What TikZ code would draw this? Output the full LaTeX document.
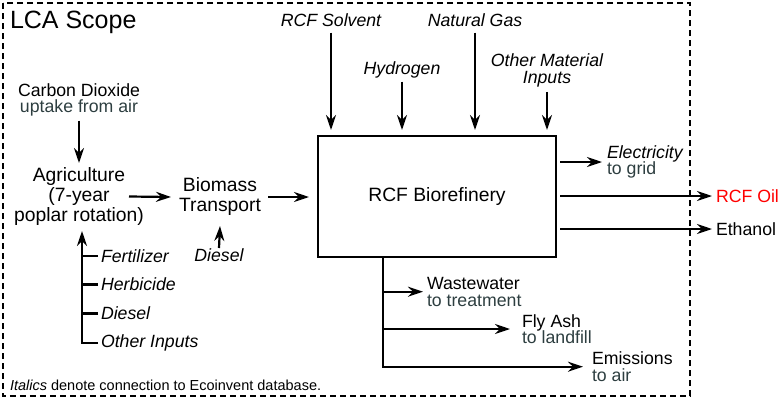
\documentclass[tikz,border=0pt]{standalone}
\usepackage{fontspec}
\setmainfont{Liberation Sans}
\usetikzlibrary{arrows.meta}
\definecolor{subc}{RGB}{45,62,64}
\begin{document}
\begin{tikzpicture}[x=1pt,y=-1pt,
  every node/.style={inner sep=0pt, outer sep=0pt, font=\fontsize{17.7}{16.6}\selectfont, align=center},
  big/.style={font=\fontsize{19.3}{20}\selectfont},
  it/.style={font=\fontsize{17.7}{16.6}\selectfont\itshape},
  arr/.style={line width=2.2pt, -{Stealth[length=15pt,width=10pt,inset=5pt]}},
  ln/.style={line width=2.2pt},
]
\useasboundingbox (0,0) rectangle (780,400);
\draw[line width=2pt, dash pattern=on 6pt off 4pt] (3,3) rectangle (690,396);

\node[anchor=base west, font=\fontsize{25}{28}\selectfont] (title) at (10,28) {LCA Scope};

\node (co2) at (79,100) {Carbon Dioxide\\\textcolor{subc}{uptake from air}};
\node[big] (agri) at (79,196.5) {Agriculture\\(7-year\\poplar rotation)};
\node[big] (bio) at (220,197) {Biomass\\Transport};
\node[big, draw, line width=2.2pt, minimum width=238pt, minimum height=121pt] (box) at (437,196.5) {RCF Biorefinery};

\node[it] (dsl) at (219,255.5) {Diesel};
\node[it, anchor=west] (fert) at (101,256) {Fertilizer};
\node[it, anchor=west] (herb) at (101,284.5) {Herbicide};
\node[it, anchor=west] (dies) at (101,313.5) {Diesel};
\node[it, anchor=west] (oth) at (101,343) {Other Inputs};

\node[it] (solv) at (331,20) {RCF Solvent};
\node[it] (hyd) at (402,70.4) {Hydrogen};
\node[it] (ng) at (475,20) {Natural Gas};
\node[it] (omi) at (547,70.4) {Other Material\\Inputs};

\node[anchor=west, align=left] (elec) at (607,162) {\textit{Electricity}\\\textcolor{subc}{to grid}};
\node[anchor=west, text=red] (oil) at (716,196) {RCF Oil};
\node[anchor=west] (eth) at (716,229) {Ethanol};
\node[anchor=west, align=left] (ww) at (427,291.7) {Wastewater\\\textcolor{subc}{to treatment}};
\node[anchor=west, align=left] (ash) at (522,329) {Fly Ash\\\textcolor{subc}{to landfill}};
\node[anchor=west, align=left] (emis) at (592,366.7) {Emissions\\\textcolor{subc}{to air}};
\node[anchor=base west, font=\fontsize{14.5}{16}\selectfont] (note) at (10,390.5) {\textit{Italics} denote connection to Ecoinvent database.};

% left chain
\draw[arr] ([yshift=-4pt]co2.south) -- ([yshift=4.5pt]agri.north);
\draw[arr] ([xshift=50pt]agri.center) -- ([xshift=-49pt]bio.center);
\draw[arr] ([xshift=48pt]bio.center) -- ([xshift=-9pt]box.west |- bio.center);
\draw[arr] ([yshift=1pt]dsl.north) -- ([yshift=-10pt]bio.south);

% agriculture inputs
\coordinate (ain) at (82,231);
\draw[arr] ([xshift=-3pt]oth.west) -| (ain);
\draw[ln] ([xshift=-3pt]fert.west) -- (fert.west -| ain);
\draw[ln] ([xshift=-3pt]herb.west) -- (herb.west -| ain);
\draw[ln] ([xshift=-3pt]dies.west) -- (dies.west -| ain);

% top inputs
\draw[arr] ([yshift=-6pt]solv.south) -- ([yshift=6pt]solv.south |- box.north);
\draw[arr] ([yshift=-3pt]hyd.south) -- ([yshift=6pt]hyd.south |- box.north);
\draw[arr] ([yshift=-6pt]ng.south) -- ([yshift=6pt]ng.south |- box.north);
\draw[arr] ([yshift=-5pt]omi.south) -- ([yshift=6pt]omi.south |- box.north);

% right outputs
\draw[arr] ([xshift=4pt]box.east |- elec.west) -- ([xshift=-5pt]elec.west);
\draw[arr] ([xshift=4pt]box.east |- oil.west) -- ([xshift=-4pt]oil.west);
\draw[arr] ([xshift=4pt]box.east |- eth.west) -- ([xshift=-4pt]eth.west);

% bottom outputs
\coordinate (bt) at ([xshift=-54pt]box.south);
\draw[arr] (bt) |- ([xshift=-9pt]emis.west);
\draw[arr] (bt |- ww.west) -- ([xshift=-4pt]ww.west);
\draw[arr] (bt |- ash.west) -- ([xshift=-12pt]ash.west);
\end{tikzpicture}
\end{document}
